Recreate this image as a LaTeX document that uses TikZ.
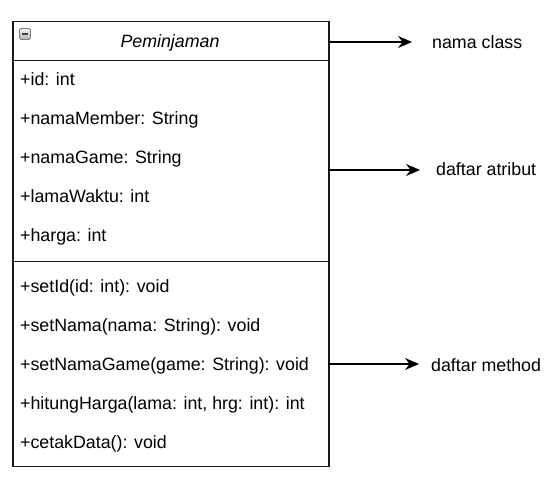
\documentclass[tikz,border=0pt]{standalone}
\usepackage{fontspec}
\setmainfont{Liberation Sans}
\usetikzlibrary{arrows.meta}
\begin{document}
\begin{tikzpicture}[x=1pt,y=-1pt,
  compart/.style={draw=black!90,line width=1.5pt,minimum width=316pt,inner sep=0pt,anchor=north west},
  item/.style={anchor=base west,inner sep=0pt,font=\fontsize{17.8}{20}\selectfont,text=black},
  lbl/.style={anchor=base west,inner sep=0pt,font=\fontsize{17.8}{20}\selectfont,text=black},
  arr/.style={-{Stealth[length=14pt,width=12pt]},line width=1.4pt,black}]
\useasboundingbox (0,0) rectangle (555,478);
% compartments
\node[compart,minimum height=39pt] (title) at (12,21) {};
\node[compart,minimum height=201pt] (attrs) at (12,60) {};
\node[compart,minimum height=205pt] (meths) at (12,261) {};
% collapse icon
\node[draw=black!50,top color=black!5,bottom color=black!30,rounded corners=1.5pt,minimum width=11pt,minimum height=11pt,inner sep=0pt,line width=0.8pt] (icon) at (25,34) {};
\draw[line width=1.5pt,black!75] ([xshift=-3pt]icon.center) -- ([xshift=3pt]icon.center);
% title
\node[anchor=base,inner sep=0pt,font=\fontsize{17.8}{20}\selectfont\itshape] (tname) at (170,48) {Peminjaman};
% attributes
\node[item] (a1) at (20,86) {+id: int};
\node[item] (a2) at (20,125) {+namaMember: String};
\node[item] (a3) at (20,164) {+namaGame: String};
\node[item] (a4) at (20,203) {+lamaWaktu: int};
\node[item] (a5) at (20,242) {+harga: int};
% methods
\node[item] (m1) at (20,293) {+setId(id: int): void};
\node[item] (m2) at (20,332) {+setNama(nama: String): void};
\node[item] (m3) at (20,371) {+setNamaGame(game: String): void};
\node[item] (m4) at (20,410) {+hitungHarga(lama: int, hrg: int): int};
\node[item] (m5) at (20,449) {+cetakData(): void};
% labels
\node[lbl] (l1) at (432,48.5) {nama class};
\node[lbl] (l2) at (436,176) {daftar atribut};
\node[lbl] (l3) at (431,371.5) {daftar method};
\coordinate (t1) at (412,42);
\coordinate (s2) at (328,170);
\coordinate (t2) at (420,170);
\coordinate (s3) at (328,364);
\coordinate (t3) at (419,364);
\draw[arr] (title.east |- t1) -- (t1);
\draw[arr] (s2) -- (t2);
\draw[arr] (s3) -- (t3);
\end{tikzpicture}
\end{document}
